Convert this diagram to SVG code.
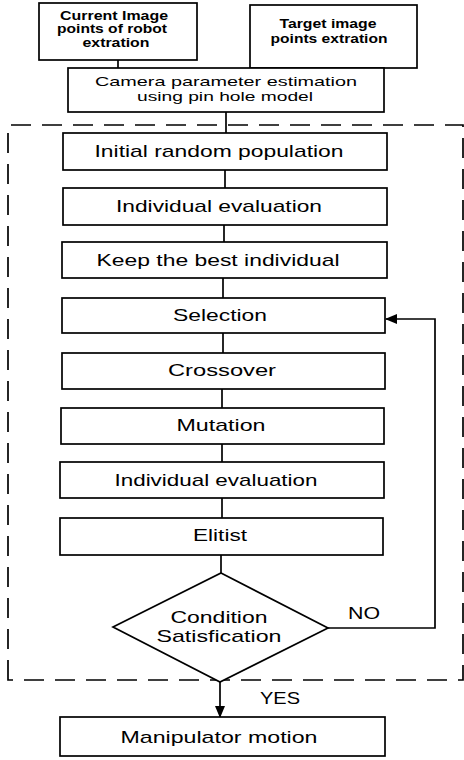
<svg xmlns="http://www.w3.org/2000/svg" width="464" height="760" viewBox="0 0 464 760">
<defs>
<style>
.box{fill:#fff;stroke:#000;stroke-width:1.7}
.ln{fill:none;stroke:#000;stroke-width:1.7}
.dash{fill:none;stroke:#000;stroke-width:1.7;stroke-dasharray:20 11}
.t{font-family:"Liberation Sans",Arial,sans-serif;font-size:17px;fill:#000;text-anchor:middle}
.s{font-family:"Liberation Sans",Arial,sans-serif;font-size:12.5px;font-weight:bold;fill:#000;text-anchor:middle}
.m{font-family:"Liberation Sans",Arial,sans-serif;font-size:13px;fill:#000;text-anchor:middle}
</style>
<marker id="ah" markerWidth="12" markerHeight="10" refX="11" refY="5" orient="auto" markerUnits="userSpaceOnUse">
<path d="M0,0 L12,5 L0,10 Z" fill="#000"/>
</marker>
</defs>
<rect width="464" height="760" fill="#fff"/>
<g id="connectors">
<path class="ln" d="M118,60 V68"/>
<path class="ln" d="M333,68 V68"/>
<path class="ln" d="M226,112 V133"/>
<path class="ln" d="M225,170 V188"/>
<path class="ln" d="M224,225 V242"/>
<path class="ln" d="M223,278 V298"/>
<path class="ln" d="M223,333 V353"/>
<path class="ln" d="M222,389 V408"/>
<path class="ln" d="M222,444 V462"/>
<path class="ln" d="M222,498 V518"/>
<path class="ln" d="M221,555 V573"/>
<path class="ln" d="M328,628 H435 V319 H386" marker-end="url(#ah)"/>
<path class="ln" d="M220,682 V717" marker-end="url(#ah)"/>
</g>
<g id="frame">
<path class="dash" d="M8,680 V125 H463 V680 Z"/>
</g>
<g id="n1">
<rect class="box" x="39" y="3" width="158" height="57"/>
<text class="s" x="114" y="20" textLength="108" lengthAdjust="spacingAndGlyphs">Current Image</text>
<text class="s" x="112" y="33" textLength="110" lengthAdjust="spacingAndGlyphs">points of robot</text>
<text class="s" x="116" y="47" textLength="67" lengthAdjust="spacingAndGlyphs">extration</text>
</g>
<g id="n2">
<rect class="box" x="250" y="5" width="167" height="63"/>
<text class="s" x="328" y="28" textLength="97" lengthAdjust="spacingAndGlyphs">Target image</text>
<text class="s" x="329" y="43" textLength="117" lengthAdjust="spacingAndGlyphs">points extration</text>
</g>
<g id="n3">
<rect class="box" x="68" y="68" width="316" height="44"/>
<text class="m" x="226" y="86" textLength="262" lengthAdjust="spacingAndGlyphs">Camera parameter estimation</text>
<text class="m" x="225" y="101" textLength="176" lengthAdjust="spacingAndGlyphs">using pin hole model</text>
</g>
<g id="n4">
<rect class="box" x="63" y="133" width="324" height="37"/>
<text class="t" x="219" y="157" textLength="249" lengthAdjust="spacingAndGlyphs">Initial random population</text>
</g>
<g id="n5">
<rect class="box" x="63" y="188" width="324" height="37"/>
<text class="t" x="219" y="212" textLength="206" lengthAdjust="spacingAndGlyphs">Individual evaluation</text>
</g>
<g id="n6">
<rect class="box" x="62" y="242" width="325" height="36"/>
<text class="t" x="218" y="266" textLength="243" lengthAdjust="spacingAndGlyphs">Keep the best individual</text>
</g>
<g id="n7">
<rect class="box" x="62" y="298" width="323" height="35"/>
<text class="t" x="220" y="321" textLength="94" lengthAdjust="spacingAndGlyphs">Selection</text>
</g>
<g id="n8">
<rect class="box" x="62" y="353" width="323" height="36"/>
<text class="t" x="222" y="376" textLength="108" lengthAdjust="spacingAndGlyphs">Crossover</text>
</g>
<g id="n9">
<rect class="box" x="61" y="408" width="323" height="36"/>
<text class="t" x="221" y="431" textLength="89" lengthAdjust="spacingAndGlyphs">Mutation</text>
</g>
<g id="n10">
<rect class="box" x="60" y="462" width="324" height="36"/>
<text class="t" x="216" y="486" textLength="203" lengthAdjust="spacingAndGlyphs">Individual evaluation</text>
</g>
<g id="n11">
<rect class="box" x="60" y="518" width="323" height="37"/>
<text class="t" x="220" y="541" textLength="54" lengthAdjust="spacingAndGlyphs">Elitist</text>
</g>
<g id="n12">
<path class="box" d="M221,573 L328,628 L220,682 L113,627 Z"/>
<text class="t" x="219" y="623" textLength="97" lengthAdjust="spacingAndGlyphs">Condition</text>
<text class="t" x="219" y="642" textLength="125" lengthAdjust="spacingAndGlyphs">Satisfication</text>
</g>
<g id="n13">
<rect class="box" x="60" y="717" width="325" height="39"/>
<text class="t" x="219" y="743" textLength="197" lengthAdjust="spacingAndGlyphs">Manipulator motion</text>
</g>
<g id="labels">
<text class="t" x="364" y="619" textLength="32" lengthAdjust="spacingAndGlyphs">NO</text>
<text class="t" x="280" y="704" textLength="40" lengthAdjust="spacingAndGlyphs">YES</text>
</g>
</svg>
